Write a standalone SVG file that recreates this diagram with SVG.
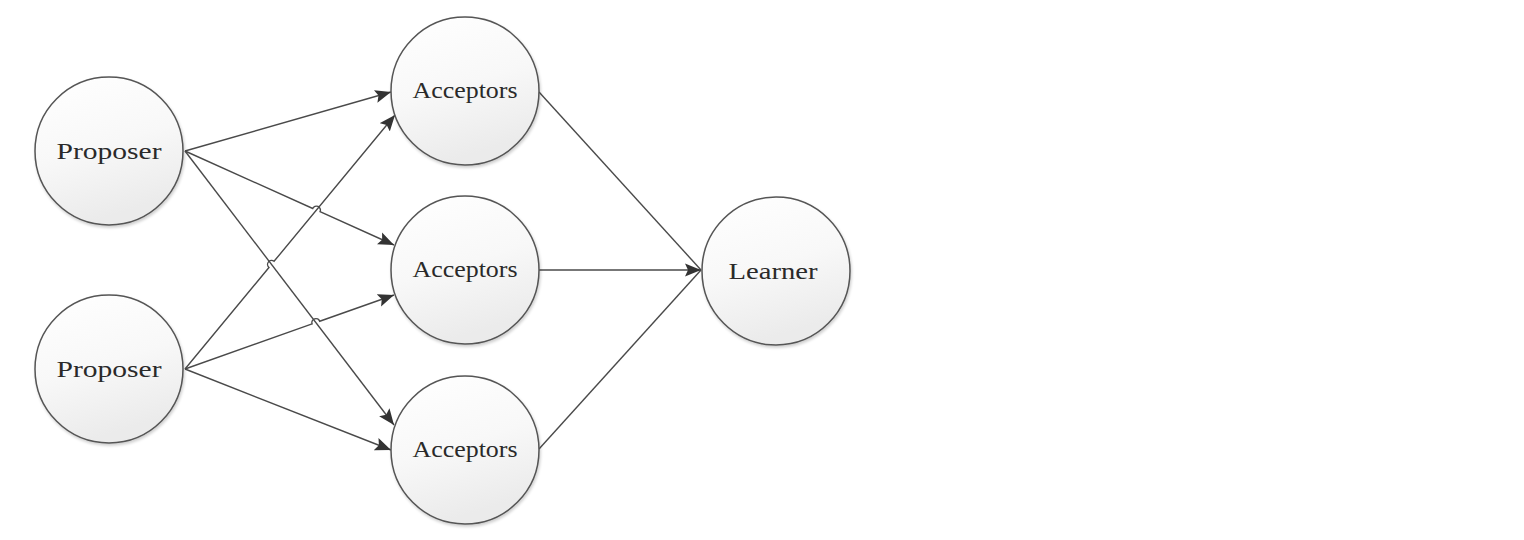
<svg xmlns="http://www.w3.org/2000/svg" width="1524" height="540" viewBox="0 0 1524 540">
<defs>
<linearGradient id="g" x1="0" y1="0" x2="0.3" y2="1">
<stop offset="0" stop-color="#ffffff"/>
<stop offset="0.55" stop-color="#f8f8f8"/>
<stop offset="1" stop-color="#ebebeb"/>
</linearGradient>
<filter id="sh" x="-20%" y="-20%" width="140%" height="140%">
<feGaussianBlur in="SourceAlpha" stdDeviation="1.5"/>
<feOffset dx="1" dy="2" result="b"/>
<feComponentTransfer><feFuncA type="linear" slope="0.2"/></feComponentTransfer>
<feMerge><feMergeNode/><feMergeNode in="SourceGraphic"/></feMerge>
</filter>
<marker id="arr" markerUnits="userSpaceOnUse" markerWidth="18" markerHeight="14" refX="16" refY="7" orient="auto">
<path d="M0,0.5 L16,7 L0,13.5 L3,7 Z" fill="#333"/>
</marker>
</defs>
<style>
.node circle{fill:url(#g);stroke:#555;stroke-width:1.5;filter:url(#sh)}
.node text{font-family:"Liberation Serif","DejaVu Serif",serif;font-size:24px;fill:#2a2a2a;text-anchor:middle}
.conn path{fill:none;stroke:#4a4a4a;stroke-width:1.4}
</style>
<rect width="1524" height="540" fill="#ffffff"/>
<g class="conn" id="connectors">
<path d="M185,151 L391,92" marker-end="url(#arr)"/>
<path d="M185,151 L312.75,208.46 A4,4 0 0 1 320.05,211.74 L394,245" marker-end="url(#arr)"/>
<path d="M185,151 L394,425" marker-end="url(#arr)"/>
<path d="M185,369 L268.95,267.48 A4,4 0 0 1 274.05,261.32 L395,115" marker-end="url(#arr)"/>
<path d="M185,369 L312.13,323.94 A4,4 0 0 1 319.67,321.26 L394,295" marker-end="url(#arr)"/>
<path d="M185,369 L391,450" marker-end="url(#arr)"/>
<path d="M539,92 L701,270"/>
<path d="M539,449 L701,270"/>
<path d="M539,270 L701,270" marker-end="url(#arr)"/>
</g>
<g class="node" id="proposer1"><circle cx="109" cy="151" r="74"/><text x="109" y="159" textLength="105" lengthAdjust="spacingAndGlyphs">Proposer</text></g>
<g class="node" id="proposer2"><circle cx="109" cy="369" r="74"/><text x="109" y="377" textLength="105" lengthAdjust="spacingAndGlyphs">Proposer</text></g>
<g class="node" id="acceptors1"><circle cx="465" cy="91" r="74"/><text x="465" y="98" textLength="105" lengthAdjust="spacingAndGlyphs">Acceptors</text></g>
<g class="node" id="acceptors2"><circle cx="465" cy="270" r="74"/><text x="465" y="277" textLength="105" lengthAdjust="spacingAndGlyphs">Acceptors</text></g>
<g class="node" id="acceptors3"><circle cx="465" cy="450" r="74"/><text x="465" y="457" textLength="105" lengthAdjust="spacingAndGlyphs">Acceptors</text></g>
<g class="node" id="learner"><circle cx="776" cy="271" r="74"/><text x="773" y="279" textLength="89" lengthAdjust="spacingAndGlyphs">Learner</text></g>
</svg>
